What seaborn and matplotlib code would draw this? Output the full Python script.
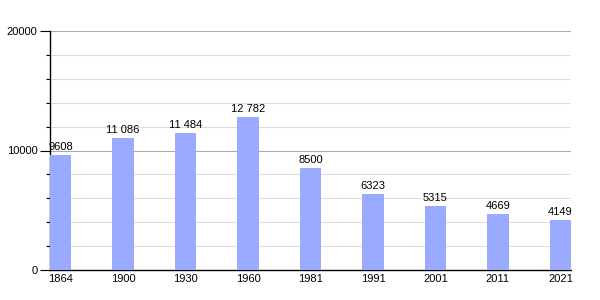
import matplotlib
matplotlib.use("Agg")
import matplotlib.pyplot as plt
import seaborn as sns
import pandas as pd
from matplotlib.ticker import MultipleLocator

years = ["1864", "1900", "1930", "1960", "1981", "1991", "2001", "2011", "2021"]
population = [9608, 11086, 11484, 12782, 8500, 6323, 5315, 4669, 4149]
value_labels = ["9608", "11 086", "11 484", "12 782", "8500", "6323", "5315", "4669", "4149"]
yticks = [0, 10000, 20000]

df = pd.DataFrame({"year": years, "pop": population})

sns.set_style("white")
plt.rcParams["font.family"] = ["Liberation Sans", "DejaVu Sans"]
plt.rcParams["text.color"] = "black"
plt.rcParams["xtick.color"] = "black"
plt.rcParams["ytick.color"] = "black"

fig = plt.figure(figsize=(6, 3), dpi=100)
ax = fig.add_axes([50/600, 30/300, 521/600, 239/300])

sns.barplot(data=df, x="year", y="pop", color="#99aaff", saturation=1,
            width=0.34, ax=ax, zorder=3, linewidth=0)

ax.set_xlim(-0.17, len(years) - 1 + 0.17)
ax.set_ylim(0, 20000)
ax.set_yticks(yticks)
ax.set_yticklabels([str(t) for t in yticks], fontsize=8, color="black")
ax.yaxis.set_minor_locator(MultipleLocator(2000))
for v in range(2000, 20000, 2000):
    if v % 10000:
        ax.axhline(v, color="#dddddd", lw=0.8, zorder=1)
for v in (10000, 20000):
    ax.axhline(v, color="#aaaaaa", lw=0.8, zorder=1)

ax.tick_params(axis="y", which="major", length=7, width=0.8, color="black", pad=2, left=True)
ax.tick_params(axis="y", which="minor", length=3, width=0.8, color="black", left=True)
ax.tick_params(axis="x", length=0, labelsize=8, pad=3, labelcolor="black")

for i, lab in enumerate(value_labels):
    ax.text(i, population[i] + 250, lab, ha="center", va="bottom", fontsize=8,
            color="black", zorder=4)

for s in ("top", "right"):
    ax.spines[s].set_visible(False)
ax.spines["left"].set_color("black")
ax.spines["bottom"].set_color("black")
ax.spines["left"].set_linewidth(1)
ax.spines["bottom"].set_linewidth(1)
ax.set_xlabel("")
ax.set_ylabel("")

fig.savefig("out.png", dpi=100)
